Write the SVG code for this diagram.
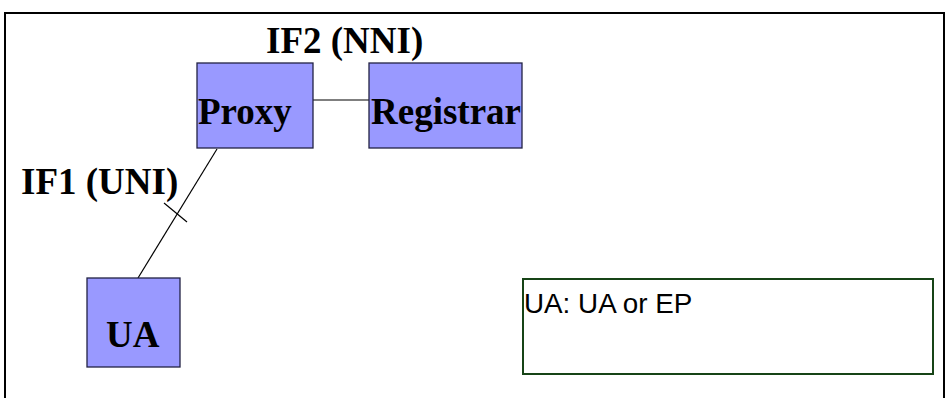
<svg xmlns="http://www.w3.org/2000/svg" width="947" height="398" viewBox="0 0 947 398">
<style>
.node{fill:#9999ff;stroke:#222244;stroke-width:1.3}
.lbl{font-family:"Liberation Serif","Times New Roman",serif;font-weight:bold;font-size:37px;fill:#000}
.conn{stroke:#000;stroke-width:1.2;fill:none}
</style>
<rect x="0" y="0" width="947" height="398" fill="#fff"/>
<path d="M5,398 V13 H944 V398" fill="none" stroke="#000" stroke-width="2"/>
<g id="connectors">
<line class="conn" x1="313" y1="100" x2="369" y2="100"/>
<line class="conn" x1="217" y1="149" x2="138" y2="278"/>
<line class="conn" x1="164" y1="203" x2="187" y2="222"/>
</g>
<g id="proxy">
<rect class="node" x="197" y="63" width="116" height="85"/>
<text class="lbl" x="198" y="124">Proxy</text>
</g>
<g id="registrar">
<rect class="node" x="369" y="63" width="153" height="85"/>
<text class="lbl" x="371" y="124">Registrar</text>
</g>
<g id="ua">
<rect class="node" x="87" y="278" width="93" height="89"/>
<text class="lbl" x="106" y="347">UA</text>
</g>
<text class="lbl" x="266" y="53">IF2 (NNI)</text>
<text class="lbl" x="21" y="194">IF1 (UNI)</text>
<g id="legend">
<rect x="523" y="279" width="410" height="95" fill="#fff" stroke="#174417" stroke-width="2"/>
<text x="524" y="313" font-family="Liberation Sans,Arial,sans-serif" font-size="27.8" fill="#000">UA: UA or EP</text>
</g>
</svg>
